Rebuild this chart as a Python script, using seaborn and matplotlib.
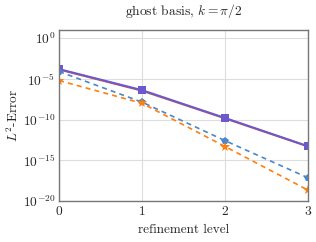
import numpy as np
import pandas as pd
import matplotlib
matplotlib.use("Agg")
import matplotlib.pyplot as plt
import seaborn as sns

levels = [0, 1, 2, 3]
err_red = [1.4e-4, 3.5e-7, 1.4e-10, 5.0e-14]
err_purple = [1.6e-4, 4.2e-7, 1.6e-10, 5.5e-14]
err_blue = [8.0e-5, 1.4e-8, 2.6e-13, 7.2e-18]
err_orange = [6.3e-6, 1.0e-8, 5.0e-14, 2.2e-19]
xticks = [0, 1, 2, 3]
yticks = [1e0, 1e-5, 1e-10, 1e-15, 1e-20]

sns.set_theme(style="whitegrid")
plt.rcParams.update({
    "font.family": "serif",
    "font.serif": ["cmr10", "DejaVu Serif"],
    "mathtext.fontset": "cm",
    "axes.formatter.use_mathtext": True,
    "axes.unicode_minus": False,
})

fig = plt.figure(figsize=(3.16, 2.42), dpi=100)
ax = fig.add_axes([0.187, 0.169, 0.788, 0.707])

sns.lineplot(x=levels, y=err_red, ax=ax, color="#c0504d", lw=1.4, marker="s",
             markersize=5, markeredgewidth=0)
sns.lineplot(x=levels, y=err_purple, ax=ax, color="#6a5acd", lw=1.4, marker="s",
             markersize=5.5, markeredgewidth=0)
sns.lineplot(x=levels, y=err_blue, ax=ax, color="#4a86c8", lw=1.2, marker="p",
             markersize=6, markeredgewidth=0, linestyle=(0, (3, 2.5)))
sns.lineplot(x=levels, y=err_orange, ax=ax, color="#ff7f0e", lw=1.2, marker="*",
             markersize=7, markeredgewidth=0, linestyle=(0, (3, 2.5)))

ax.set_yscale("log")
ax.set_ylim(1e-20, 1e1)
ax.set_xlim(0, 3)
ax.set_xticks(xticks)
ax.set_yticks(yticks)
ax.minorticks_off()
ax.yaxis.set_minor_locator(matplotlib.ticker.NullLocator())
ax.tick_params(labelsize=9.7, length=0, pad=3)
ax.grid(True, color="#dddddd", lw=0.8)
for s in ax.spines.values():
    s.set_color("#777777")
    s.set_linewidth(1.0)

ax.set_xlabel("refinement level", fontsize=9.5, labelpad=4)
ax.set_ylabel(r"$L^2$-Error", fontsize=9.5, labelpad=1)
ax.set_title(r"ghost basis, $k = \pi/2$", fontsize=9.7, pad=11)

fig.savefig("out.png", dpi=100)
